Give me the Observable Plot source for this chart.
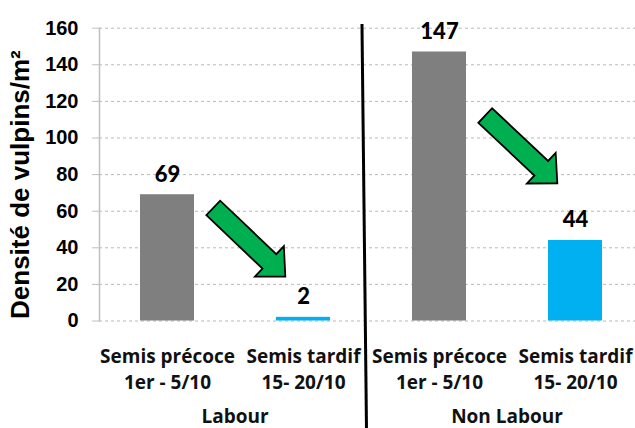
<!DOCTYPE html>
<html><head><meta charset="utf-8">
<script src="https://cdn.jsdelivr.net/npm/d3@7"></script>
<script src="https://cdn.jsdelivr.net/npm/@observablehq/plot@0.6"></script>
<style>body{margin:0;background:#fff;} svg{display:block;}</style>
</head><body><div id="chart"></div>
<script>
const categories = ["L-precoce", "L-tardif", "NL-precoce", "NL-tardif"];
const categoryLabels = ["Semis précoce\n1er - 5/10", "Semis tardif\n15- 20/10", "Semis précoce\n1er - 5/10", "Semis tardif\n15- 20/10"];
const values = [69, 2, 147, 44];
const sowing = ["précoce", "tardif", "précoce", "tardif"];
const groups = ["Labour", "Non Labour"];
const groupMembers = [["L-precoce", "L-tardif"], ["NL-precoce", "NL-tardif"]];
const yTicks = [0, 20, 40, 60, 80, 100, 120, 140, 160];
const yLabel = "Densité de vulpins/m²";
const arrowFrom = ["L-precoce", "NL-precoce"];
const arrowTo = ["L-tardif", "NL-tardif"];
const arrowStartValue = [61.5, 112];
const arrowEndValue = [24, 75];

const data = categories.map((c, i) => ({cat: c, label: categoryLabels[i], value: values[i], sowing: sowing[i]}));

const W = 635, H = 428;
const arial = "'Liberation Sans', Arial, sans-serif";
const calibri = "'Open Sans', Lato, sans-serif";
const digits = "Lato, 'Open Sans', sans-serif";

const plot = Plot.plot({
  width: W, height: H,
  marginLeft: 99, marginRight: 0, marginTop: 27.7, marginBottom: 107.5,
  style: {background: "#fff", overflow: "visible"},
  x: {domain: categories, range: [99, 643], paddingInner: 0.6, paddingOuter: 0.3, axis: null},
  y: {domain: [0, 160], ticks: yTicks},
  color: {domain: ["précoce", "tardif"], range: ["#7f7f7f", "#00b0f0"]},
  marks: [
    Plot.gridY(yTicks, {stroke: "#b8b8b8", strokeOpacity: 1, strokeDasharray: "3,3", strokeWidth: 1}),
    Plot.barY(data, {x: "cat", y: "value", fill: "sowing"}),
    Plot.frame({anchor: "left", stroke: "#bfbfbf", strokeWidth: 1.5}),
    Plot.axisY(yTicks, {
      tickSize: 7, tickPadding: 14, stroke: "#bfbfbf",
      fontSize: 20, fontWeight: "bold", fontFamily: arial, color: "#000",
      label: null
    }),
    Plot.text([yLabel], {text: d => d, frameAnchor: "left", textAnchor: "middle", rotate: -90, dx: -79, dy: 10,
      fontSize: 26, fontWeight: "bold", fontFamily: arial, fill: "#000"}),
    Plot.text(data, {x: "cat", y: "value", text: d => String(d.value), lineAnchor: "bottom", dy: -13,
      fontSize: 22, fontWeight: 900, fontFamily: digits, fill: "#000"}),
    Plot.text(data, {x: "cat", text: "label", frameAnchor: "bottom", lineAnchor: "top", dy: 23,
      lineHeight: 1.4, fontSize: 19, fontWeight: "bold", fontFamily: calibri, fill: "#111"})
  ]
});

document.getElementById("chart").appendChild(plot);

const xs = plot.scale("x"), ys = plot.scale("y");
const bw = xs.bandwidth, step = xs.step;
const xc = c => xs.apply(c) + bw / 2;
const svg = d3.select(plot);
const g = svg.append("g");

// group labels
groups.forEach((name, i) => {
  const [a, b] = groupMembers[i];
  g.append("text")
    .attr("x", (xc(a) + xc(b)) / 2)
    .attr("y", 423)
    .attr("text-anchor", "middle")
    .attr("font-family", calibri)
    .attr("font-size", 19)
    .attr("font-weight", "bold")
    .attr("fill", "#111")
    .text(name);
});

// separator
const sepX = xs.apply("L-tardif") + bw + 0.39 * (step - bw);
g.append("line")
  .attr("x1", sepX).attr("y1", ys.apply(162))
  .attr("x2", sepX + 4.5).attr("y2", H)
  .attr("stroke", "#000").attr("stroke-width", 3);

// block arrows
arrowFrom.forEach((f, i) => {
  const tx = xc(f) + 0.34 * step, ty = ys.apply(arrowStartValue[i]);
  const px = xc(arrowTo[i]) - 0.13 * step, py = ys.apply(arrowEndValue[i]);
  const len = Math.hypot(px - tx, py - ty);
  const ux = (px - tx) / len, uy = (py - ty) / len;
  const nx = -uy, ny = ux;
  const hw = 10, HW = 21, HL = 22;
  const bx = px - HL * ux, by = py - HL * uy;
  const pts = [
    [tx + hw * nx, ty + hw * ny], [bx + hw * nx, by + hw * ny], [bx + HW * nx, by + HW * ny],
    [px, py],
    [bx - HW * nx, by - HW * ny], [bx - hw * nx, by - hw * ny], [tx - hw * nx, ty - hw * ny]
  ];
  g.append("polygon")
    .attr("points", pts.map(p => p.join(",")).join(" "))
    .attr("fill", "#00b050").attr("stroke", "#000").attr("stroke-width", 1.8)
    .attr("stroke-linejoin", "miter");
});
</script>
</body></html>
